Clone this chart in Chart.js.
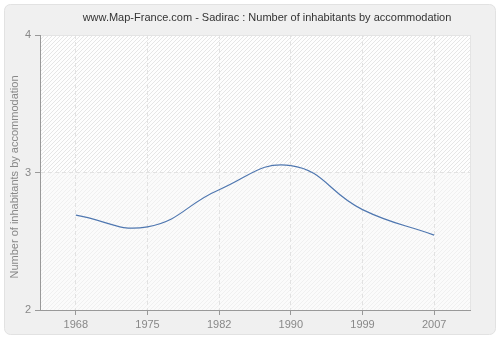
<!DOCTYPE html>
<html>
<head>
<meta charset="utf-8">
<script src="https://cdn.jsdelivr.net/npm/chart.js@4/dist/chart.umd.min.js"></script>
<style>
  html, body { margin: 0; padding: 0; background: #fff; }
  #wrap { position: relative; width: 500px; height: 340px; }
</style>
</head>
<body>
<div id="wrap"><canvas id="chart" width="500" height="340"></canvas></div>
<script>
// --- données ---
const years = ['1968', '1975', '1982', '1990', '1999', '2007'];
const inhabitants = [2.69, 2.605, 2.875, 3.05, 2.73, 2.545];
const yTicks = [2, 3, 4];
const chartTitle = 'www.Map-France.com - Sadirac : Number of inhabitants by accommodation';
const yTitle = 'Number of inhabitants by accommodation';

// motif hachuré pour le fond
function makeHatch(bg, stripe) {
    const n = 4;
    const c = document.createElement('canvas');
    c.width = n; c.height = n;
    const g = c.getContext('2d');
    g.fillStyle = bg;
    g.fillRect(0, 0, n, n);
    g.fillStyle = stripe;
    for (let i = 0; i < n; i++) g.fillRect(i, n - 1 - i, 1, 1);
    return g.createPattern(c, 'repeat');
}

const backdrop = {
    id: 'backdrop',
    beforeDraw(chart) {
        const ctx = chart.ctx;
        const a = chart.chartArea;
        const y = chart.scales.y;
        ctx.save();
        // carte de fond
        ctx.fillStyle = '#ffffff';
        ctx.fillRect(0, 0, 500, 340);
        ctx.beginPath();
        ctx.roundRect(4.5, 4.5, 491, 330, 6);
        ctx.fillStyle = '#f0f0f0';
        ctx.fill();
        ctx.strokeStyle = '#e2e2e2';
        ctx.lineWidth = 1;
        ctx.stroke();
        // zone du graphique
        const y3 = y.getPixelForValue(3);
        ctx.fillStyle = makeHatch('#fefefe', '#e6e6e6');
        ctx.fillRect(a.left, a.top, a.right - a.left, y3 - a.top);
        ctx.fillStyle = makeHatch('#fbfbfb', '#f0f0f0');
        ctx.fillRect(a.left, y3, a.right - a.left, a.bottom - y3);
        ctx.strokeStyle = '#e4e4e4';
        ctx.strokeRect(a.left + 0.5, a.top + 0.5, a.right - a.left, a.bottom - a.top);
        ctx.restore();
    },
    afterDraw(chart) {
        const ctx = chart.ctx;
        ctx.save();
        ctx.fillStyle = '#333';
        ctx.font = '11px "Liberation Sans", sans-serif';
        ctx.textAlign = 'center';
        ctx.textBaseline = 'middle';
        ctx.fillText(chartTitle, 267, 18);
        ctx.translate(15, 177);
        ctx.rotate(-Math.PI / 2);
        ctx.fillStyle = '#888';
        ctx.font = '11px "Liberation Sans", sans-serif';
        ctx.fillText(yTitle, 0, 0);
        ctx.restore();
    }
};

new Chart(document.getElementById('chart'), {
    type: 'line',
    data: {
        labels: years,
        datasets: [{
            data: inhabitants,
            borderColor: '#4f77b0',
            borderWidth: 1.2,
            pointRadius: 0,
            tension: 0.45,
            fill: false
        }]
    },
    options: {
        responsive: false,
        animation: false,
        layout: { padding: { left: 0, top: 35, right: 30, bottom: 0 } },
        plugins: { legend: { display: false }, tooltip: { enabled: false } },
        scales: {
            x: {
                offset: true,
                grid: {
                    offset: false,
                    color: '#e2e2e2',
                    tickColor: '#999',
                    tickLength: 5,
                    drawTicks: true
                },
                border: { color: '#999', dash: [4, 3] },
                ticks: { color: '#888', font: { family: 'Liberation Sans', size: 11 }, padding: 3, maxRotation: 0 },
                afterFit(s) { s.height = 30; }
            },
            y: {
                min: 2,
                max: 4,
                afterBuildTicks(s) { s.ticks = yTicks.map(v => ({ value: v })); },
                grid: {
                    color: ctx => ctx.tick && ctx.tick.value === 3 ? '#e2e2e2' : 'rgba(0,0,0,0)',
                    tickColor: '#999',
                    tickLength: 5
                },
                border: { color: '#999', dash: [4, 3] },
                ticks: { color: '#888', font: { family: 'Liberation Sans', size: 11 }, padding: 4 },
                afterFit(s) { s.width = 40; }
            }
        }
    },
    plugins: [backdrop]
});
</script>
</body>
</html>
